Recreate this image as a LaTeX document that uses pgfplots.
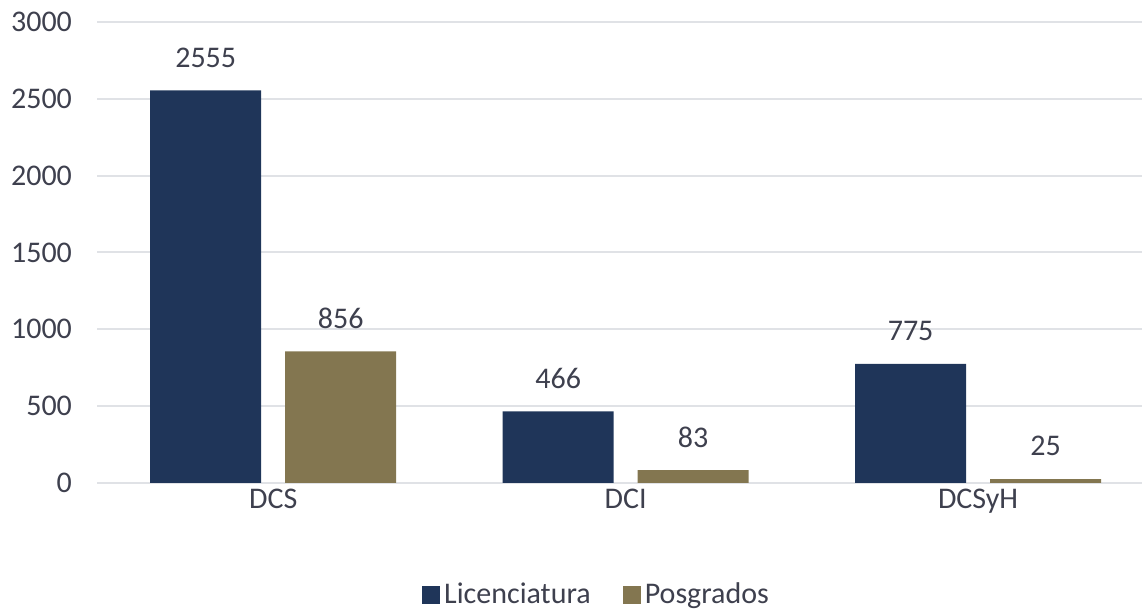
\documentclass[border=0pt]{standalone}
\usepackage{fontspec}
\setmainfont{Carlito}
\usepackage{pgfplots}
\pgfplotsset{compat=1.18}
\definecolor{lic}{RGB}{31,53,89}
\definecolor{pos}{RGB}{131,118,80}
\definecolor{txt}{RGB}{62,64,78}
\definecolor{grd}{RGB}{224,226,230}
\newcommand\cf{\fontsize{15}{18}\selectfont}

\begin{document}
\begin{tikzpicture}
\begin{axis}[
    name=ax,
    scale only axis,
    width=522.5pt, height=230.5pt,
    ybar=12pt, bar width=55.5pt,
    xmin=-0.5, xmax=2.465, ymin=0, ymax=3000,
    enlargelimits=false,
    xtick={0,1,2}, xticklabels={DCS,DCI,DCSyH},
    ytick={0,500,...,3000},
    ymajorgrids, grid style={grd, line width=1pt},
    axis line style={draw=none},
    tick style={draw=none},
    /pgf/number format/assume math mode=true,
    /pgf/number format/1000 sep={},
    every tick label/.append style={font=\cf, text=txt},
    yticklabel style={xshift=-9pt},
    xticklabel style={yshift=5pt},
    nodes near coords,
    every node near coord/.append style={font=\cf, text=txt, anchor=center, yshift=16.5pt},
    legend style={at={(0.479,-0.243)}, anchor=center, draw=none, font=\cf, text=txt,
        legend columns=2, /tikz/every even column/.append style={column sep=14pt}},
    legend image code/.code={\fill[#1] (0pt,-4.5pt) rectangle (9pt,4.5pt);},
]
\addplot[fill=lic, draw=none] coordinates {(0,2555) (1,466) (2,775)};
\addplot[fill=pos, draw=none] coordinates {(0,856) (1,83) (2,25)};
\legend{Licenciatura, Posgrados}
\end{axis}
\pgfresetboundingbox
\path ([xshift=-48.5pt,yshift=-63.5pt]ax.south west) rectangle ([yshift=11pt]ax.north east);
\end{tikzpicture}
\end{document}
